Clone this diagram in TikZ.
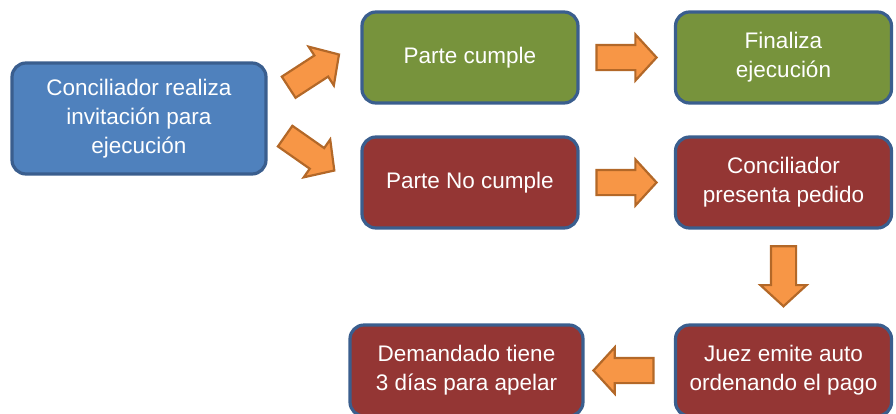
\documentclass[tikz,border=0pt]{standalone}
\usepackage{fontspec}
\setmainfont{Liberation Sans}
\usetikzlibrary{shapes.arrows, calc}

\definecolor{borde}{HTML}{3A5E8E}
\definecolor{azul}{HTML}{4F81BD}
\definecolor{verde}{HTML}{77933C}
\definecolor{rojo}{HTML}{943634}
\definecolor{naranja}{HTML}{F79646}
\definecolor{naranjaosc}{HTML}{B36828}

\begin{document}
\begin{tikzpicture}[x=1pt, y=-1pt,
  caja/.style={draw=borde, line width=3.2pt, rounded corners=14pt, text=white, align=center,
    font=\fontsize{22.5}{29}\selectfont, minimum width=216pt, minimum height=91pt, inner sep=2pt},
  flecha/.style={single arrow, draw=naranjaosc, fill=naranja, line width=2.2pt, inner sep=11.5pt,
    single arrow head extend=10.5pt, minimum height=60pt, single arrow tip angle=95}]
  \useasboundingbox (0,0) rectangle (896,413);
  % cajas
  \node[caja, fill=azul, minimum width=254pt, minimum height=111pt] (inv) at (139,118.5)
    {Conciliador realiza\\invitación para\\ejecución};
  \node[caja, fill=verde] (pc) at (470,57.5) {Parte cumple};
  \node[caja, fill=verde] (fin) at (783.5,57.5) {Finaliza\\ejecución};
  \node[caja, fill=rojo] (pnc) at (470,182.5) {Parte No cumple};
  \node[caja, fill=rojo] (cpp) at (783.5,182.5) {Conciliador\\presenta pedido};
  \node[caja, fill=rojo] (juez) at (783.5,370.5) {Juez emite auto\\ordenando el pago};
  \node[caja, fill=rojo, minimum width=233pt] (dem) at (466.5,370.5) {Demandado tiene\\3 días para apelar};
  % flechas
  \node[flecha, rotate=33] at (309,74) {};
  \node[flecha, rotate=-35] at (305,150) {};
  \node[flecha, xshift=-6pt] at ($(pc.east)!0.5!(fin.west)$) {};
  \node[flecha, xshift=-6pt] at ($(pnc.east)!0.5!(cpp.west)$) {};
  \node[flecha, rotate=-90, xshift=-6pt] at ($(cpp.south)!0.5!(juez.north)$) {};
  \node[flecha, rotate=180] at ($(dem.east)!0.5!(juez.west)$) {};
\end{tikzpicture}
\end{document}
